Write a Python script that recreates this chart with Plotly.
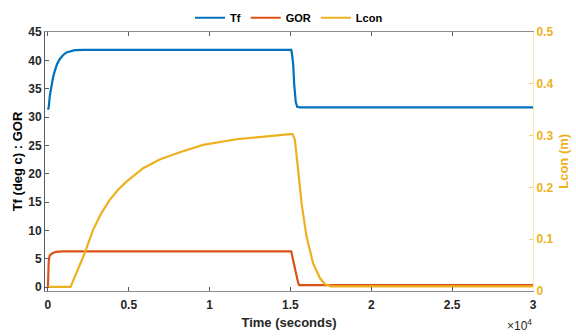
import plotly.graph_objects as go

# ---- data ----
tf_t = [0, 50, 120, 216, 320, 421, 560, 730, 930, 1145, 1400, 1660, 2200, 15050, 15100, 15170, 15230, 15280, 15330, 15420, 15600, 30000]
tf_v = [31.3, 31.7, 33.8, 35.5, 37.0, 38.1, 39.3, 40.2, 40.9, 41.4, 41.65, 41.8, 41.85, 41.85, 41.0, 39.3, 35.8, 33.8, 32.6, 31.8, 31.7, 31.7]

gor_t = [0, 20, 50, 110, 200, 300, 500, 900, 2000, 15050, 15170, 15380, 15470, 15540, 30000]
gor_v = [0, 2.5, 4.5, 5.6, 5.85, 6.0, 6.2, 6.3, 6.3, 6.3, 4.7, 1.8, 0.8, 0.35, 0.35]

lcon_t = [0, 1400, 2277, 2791, 3300, 3824, 4350, 4858, 5885, 6918, 8156, 9598, 11665, 13730, 14963,
          15130, 15272, 15476, 15687, 15996, 16405, 16819, 17128, 17500, 30000]
lcon_v = [0.008, 0.008, 0.073, 0.118, 0.150, 0.176, 0.196, 0.211, 0.237, 0.254, 0.268, 0.282, 0.293, 0.300, 0.303,
          0.303, 0.292, 0.234, 0.169, 0.105, 0.053, 0.025, 0.0135, 0.009, 0.009]

x_tickvals = [0, 5000, 10000, 15000, 20000, 25000, 30000]
x_ticktext = ["0", "0.5", "1", "1.5", "2", "2.5", "3"]
y_tickvals = [0, 5, 10, 15, 20, 25, 30, 35, 40, 45]
y2_tickvals = [0, 0.1, 0.2, 0.3, 0.4, 0.5]
y2_ticktext = ["0", "0.1", "0.2", "0.3", "0.4", "0.5"]

BLUE = "#0072BD"
ORANGE = "#D95319"
YELLOW = "#EDB120"
DARK = "#262626"
FONT = "Liberation Sans"

fig = go.Figure()
fig.add_trace(go.Scatter(x=tf_t, y=tf_v, name="Tf", mode="lines",
                         line=dict(color=BLUE, width=2.2)))
fig.add_trace(go.Scatter(x=gor_t, y=gor_v, name="GOR", mode="lines",
                         line=dict(color=ORANGE, width=2.2)))
fig.add_trace(go.Scatter(x=lcon_t, y=lcon_v, name="Lcon", mode="lines", yaxis="y2",
                         line=dict(color=YELLOW, width=2.2)))

fig.update_layout(
    width=576, height=336,
    margin=dict(l=45, r=43, t=32, b=45, autoexpand=False),
    paper_bgcolor="white", plot_bgcolor="white",
    font=dict(family=FONT, size=12, color=DARK),
    showlegend=True,
    legend=dict(orientation="h", x=0.5, xanchor="center", y=1.055, yanchor="middle",
                font=dict(family=FONT, size=11, color="black", weight="bold"),
                itemwidth=30, tracegroupgap=0, bgcolor="rgba(0,0,0,0)"),
    xaxis=dict(range=[-180, 30000], tickvals=x_tickvals, ticktext=x_ticktext,
               showgrid=False, zeroline=False, showline=True, linecolor="#8c8c8c", linewidth=1,
               mirror="ticks", ticks="inside", ticklen=4, tickcolor="#5a5a5a",
               ticklabelstandoff=3,
               tickfont=dict(family=FONT, size=12, color=DARK, weight="bold"),
               title=dict(text="Time (seconds)", standoff=6,
                          font=dict(family=FONT, size=13, color=DARK, weight="bold"))),
    yaxis=dict(range=[-0.7, 45], tickvals=y_tickvals,
               showgrid=False, zeroline=False, showline=True, linecolor="#5a5a5a", linewidth=1,
               ticks="inside", ticklen=4, tickcolor="#5a5a5a",
               tickfont=dict(family=FONT, size=12, color=DARK, weight="bold"),
               title=dict(text="Tf (deg c) : GOR", standoff=2,
                          font=dict(family=FONT, size=13, color="black", weight="bold"))),
    yaxis2=dict(range=[0, 0.5], tickvals=y2_tickvals, ticktext=y2_ticktext,
                overlaying="y", side="right",
                showgrid=False, zeroline=False, showline=True,
                linecolor="rgba(237,177,32,0.3)", linewidth=1,
                ticks="inside", ticklen=4, tickcolor="rgba(237,177,32,0.6)",
                tickfont=dict(family=FONT, size=12, color=YELLOW, weight="bold")),
    annotations=[
        dict(text="×10<sup>4</sup>", xref="paper", yref="paper",
             x=0.943, y=-0.13, xanchor="left", yanchor="middle", showarrow=False,
             font=dict(family=FONT, size=12, color=DARK)),
        dict(text="Lcon (m)", xref="paper", yref="paper", textangle=-90,
             x=1.062, y=0.5, xanchor="center", yanchor="middle", showarrow=False,
             font=dict(family=FONT, size=13, color=YELLOW, weight="bold")),
    ],
)

fig.write_html("out.html", config={"displayModeBar": False},
               post_script="document.body.style.margin='0';document.body.style.overflow='hidden';")
